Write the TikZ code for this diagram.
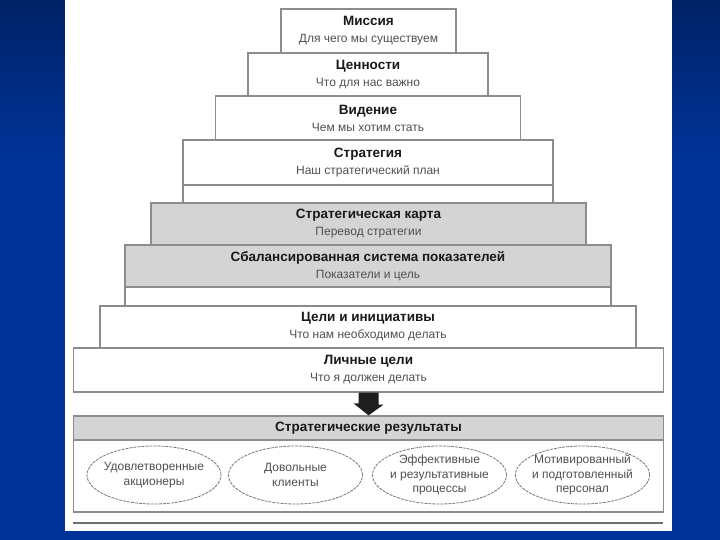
\documentclass[tikz,border=0pt]{standalone}
\usepackage{fontspec}
\setmainfont{Liberation Sans}
\usetikzlibrary{shapes.geometric}
\definecolor{bgblue}{RGB}{0,51,153}
\definecolor{bgdark}{RGB}{0,6,20}
\definecolor{edgec}{RGB}{140,140,140}
\definecolor{ovalc}{RGB}{120,120,120}
\definecolor{gfill}{RGB}{212,212,212}
\definecolor{ttl}{RGB}{25,25,25}
\definecolor{subc}{RGB}{80,80,80}
\definecolor{arrowc}{RGB}{30,30,30}
\definecolor{rulec}{RGB}{110,110,110}
\pgfdeclareverticalshading{bgsh}{100bp}{color(0bp)=(bgblue); color(60bp)=(bgblue); color(100bp)=(bgdark)}
\newcommand{\tierlab}[2]{{\fontsize{13.5}{17}\selectfont\bfseries\color{ttl}#1}\\{\fontsize{12}{17}\selectfont\color{subc}#2}}
\begin{document}
\begin{tikzpicture}[x=1pt,y=-1pt,
  tier/.style={draw=edgec, line width=1.3pt, fill=white, inner sep=0pt, align=center, font=\fontsize{12}{17}\selectfont},
  gtier/.style={tier, fill=gfill},
  gapbox/.style={draw=edgec, line width=1.3pt, fill=white, inner sep=0pt},
  oval/.style={ellipse, draw=ovalc, line width=0.8pt, dash pattern=on 3pt off 1pt,
    minimum width=134pt, minimum height=58pt, inner xsep=-3pt, inner ysep=0pt, align=center,
    font=\fontsize{12}{14.5}\selectfont, text=subc}]
\useasboundingbox (0,0) rectangle (720,540);
\shade[shading=bgsh] (0,0) rectangle (720,540);
\fill[white] (65,0) rectangle (672,531);

\node[tier, minimum width=175pt, minimum height=44pt] (mis) at (368.5,31) {\tierlab{Миссия}{Для чего мы существуем}};
\node[tier, minimum width=240pt, minimum height=43pt] (cen) at (368,74.5) {\tierlab{Ценности}{Что для нас важно}};
\node[tier, minimum width=305pt, minimum height=44pt] (vid) at (368,118) {\tierlab{Видение}{Чем мы хотим стать}};
\node[tier, minimum width=370pt, minimum height=45pt] (str) at (368,162.5) {\tierlab{Стратегия}{Наш стратегический план}};
\node[gapbox, minimum width=370pt, minimum height=18pt] (strgap) at (368,194) {};
\node[gtier, minimum width=435pt, minimum height=42pt] (kar) at (368.5,224) {\tierlab{Стратегическая карта}{Перевод стратегии}};
\node[gtier, minimum width=486pt, minimum height=42pt] (bsc) at (368,266) {\tierlab{Сбалансированная система показателей}{Показатели и цель}};
\node[gapbox, minimum width=486pt, minimum height=19pt] (bscgap) at (368,296.5) {};
\node[tier, minimum width=536pt, minimum height=42pt] (cel) at (368,327) {\tierlab{Цели и инициативы}{Что нам необходимо делать}};
\node[tier, minimum width=590pt, minimum height=44pt] (lich) at (368.5,370) {\tierlab{Личные цели}{Что я должен делать}};

\node[gtier, minimum width=590pt, minimum height=24pt, font=\fontsize{13.5}{15}\selectfont\bfseries, text=ttl] (hdr) at (368.5,428) {Стратегические результаты};
\node[tier, minimum width=590pt, minimum height=72pt] (res) at (368.5,476) {};

\fill[arrowc] ([xshift=-10pt]lich.south) -- ++(20,0) -- ++(0,12) -- ++(5,0) -- (hdr.north) -- ++(-15,-12) -- ++(5,0) -- cycle;

\node[oval] (o1) at (154,475) {Удовлетворенные\\акционеры};
\node[oval] (o2) at (295.5,475) {Довольные\\клиенты};
\node[oval] (o3) at (439.5,475) {Эффективные\\и результативные\\процессы};
\node[oval] (o4) at (582.5,475) {Мотивированный\\и подготовленный\\персонал};

\draw[rulec, line width=1.6pt] (73,523) -- (663,523);
\end{tikzpicture}
\end{document}
